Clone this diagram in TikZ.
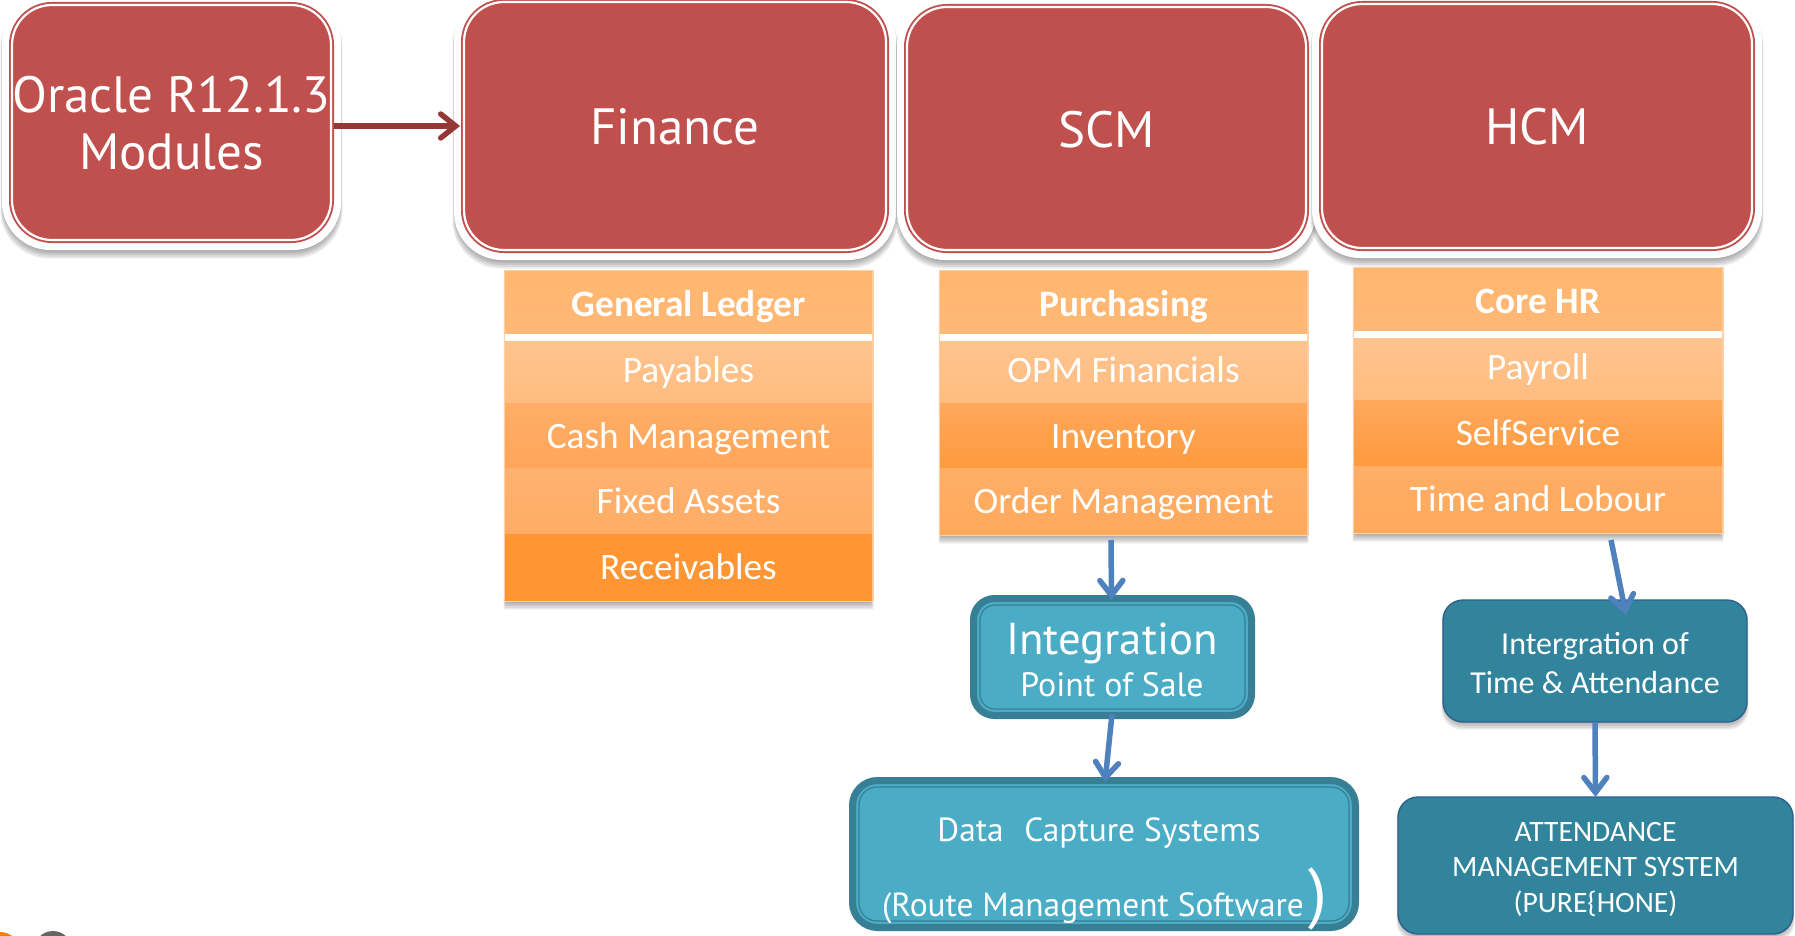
\documentclass[tikz,border=0pt]{standalone}
\usepackage{fontspec}
\setmainfont{Carlito}
\newfontfamily\hf{PT Sans}
\usetikzlibrary{arrows.meta,calc}
\definecolor{redfill}{HTML}{C0504D}
\definecolor{redarrow}{HTML}{953735}
\definecolor{bluearrow}{HTML}{4F81BD}
\definecolor{aqua}{HTML}{4BACC6}
\definecolor{aquadark}{HTML}{367F94}
\definecolor{teal}{HTML}{31849B}
\definecolor{tealline}{HTML}{2F5F8E}
\definecolor{rowedge}{HTML}{FFCFA6}
\definecolor{hdA}{HTML}{FFB670}\definecolor{hdB}{HTML}{FFB875}
\definecolor{payA}{HTML}{FFC48E}\definecolor{payB}{HTML}{FFBC80}
\definecolor{cashA}{HTML}{FFAD66}\definecolor{cashB}{HTML}{FFA65A}
\definecolor{fixA}{HTML}{FFB26F}\definecolor{fixB}{HTML}{FFAC66}
\definecolor{recA}{HTML}{FF9633}
\definecolor{invA}{HTML}{FFA85C}\definecolor{invB}{HTML}{FF9A3E}
\definecolor{ordA}{HTML}{FFAE66}\definecolor{ordB}{HTML}{FFA95C}
\tikzset{
  pict/.style={x=1pt,y=-1pt},
  boxbase/.style={inner sep=0pt,outer sep=0pt,align=center,text=white},
  redbox/.style={boxbase,fill=redfill,draw=redfill,line width=1.9pt,double=white,double distance=2.2pt},
  redlabel/.style={boxtext,font=\hf\fontsize{51}{57}\selectfont},
  aquabox/.style={boxbase,fill=aqua,draw=aquadark,line width=7pt},
  aquathin/.style={draw=aquadark,line width=1.2pt},
  tealbox/.style={boxbase,fill=teal,draw=tealline,line width=1.4pt},
  rowcell/.style={boxbase,text height=33.5pt,text depth=8pt,font=\fontsize{37.3}{40}\selectfont},
  payrow/.style={rowcell,text height=28.5pt},
  headcell/.style={rowcell,text height=37pt,font=\bfseries\fontsize{37.3}{40}\selectfont},
  mainarrow/.style={draw=redarrow,line width=5.4pt,-{Straight Barb[length=15pt,width=24pt,line cap=round,line width=5.4pt]}},
  bluearrowline/.style={draw=bluearrow,line width=5.5pt,-{Straight Barb[length=15pt,width=23pt,line cap=round,line width=5.5pt]}},
  boxtext/.style={inner sep=0pt,text=white,align=center},
}
% x1 y1 x2 y2 radius dy
\newcommand{\softshadow}[6]{%
  \foreach \s in {0,1,...,5}{%
    \fill[black,opacity=.075,rounded corners=#5pt]
      ({#1+2-\s*0.7},{#2+#6}) rectangle ({#3-2+\s*0.7},{#4+#6-4+\s*1.7});
  }%
}
% name x1 y1 x2 y2 text
\newcommand{\redmodule}[6]{%
  \softshadow{#2-8}{#3-8}{#4+8}{#5+8}{48}{4}
  \fill[white,rounded corners=48pt] ({#2-8},{#3-8}) rectangle ({#4+8},{#5+8});
  \node[redbox,rounded corners=40pt,minimum width={(#4-#2-4)*1pt},minimum height={(#5-#3-4)*1pt}]
    (#1) at ({(#2+#4)/2},{(#3+#5)/2}) {};
  \node[redlabel] (#1text) at ($(#1)+(0,1)$) {#6};
}
% name x1 y1 x2 y2 top bottom text style
\newcommand{\tablerow}[9][rowcell]{\tablerowi{#1}{#2}{#3}{#4}{#5}{#6}{#7}{#8}{#9}}
\newcommand{\tablerowi}[9]{%
  \node[#1,top color=#7,bottom color=#8,minimum width={(#5-#3)*1pt},minimum height={(#6-#4)*1pt}]
    (#2) at ({(#3+#5)/2},{(#4+#6)/2}) {#9};
}
% x1 y1 x2 y2
\newcommand{\tableback}[4]{%
  \softshadow{#1}{#2}{#3}{#4}{1}{5}
  \draw[rowedge,line width=3pt] (#1,#2) rectangle (#3,#4);
  \fill[white] (#1,{#2+60}) rectangle (#3,{#2+72});
}
\begin{document}
\begin{tikzpicture}[pict]
\useasboundingbox (0,0) rectangle (1795,936);
\clip (0,0) rectangle (1795,936);
\fill[white] (0,0) rectangle (1795,936);
% corner remnants
\fill[orange!95!red] (0,952) circle (20);
\fill[black!60] (53,950) circle (19);
% red modules
\redmodule{oracle}{10}{3}{333}{242}{Oracle R12.1.3\\Modules}
\redmodule{finance}{462}{0}{888}{252}{Finance}
\redmodule{scm}{905}{5}{1308}{252}{SCM}
\redmodule{hcm}{1320}{2}{1754}{250}{HCM}
\draw[mainarrow,shorten >=4pt] (oracle.east|-finance.west) ++(3,0) -- (finance.west);
% Finance table
\tableback{505}{271}{872}{600}
\tablerow[headcell]{gl}{505}{271}{872}{333}{hdA}{hdB}{General Ledger}
\tablerow[payrow]{pay}{505}{341}{872}{403}{payA}{payB}{Payables}
\tablerow{cash}{505}{403}{872}{468}{cashA}{cashB}{Cash Management}
\tablerow{fixed}{505}{468}{872}{534}{fixA}{fixB}{Fixed Assets}
\tablerow{recv}{505}{534}{872}{600}{recA}{recA}{Receivables}
% SCM table
\tableback{940}{271}{1307}{534}
\tablerow[headcell]{purch}{940}{271}{1307}{333}{hdA}{hdB}{Purchasing}
\tablerow[payrow]{opm}{940}{341}{1307}{403}{payA}{payB}{OPM Financials}
\tablerow{inv}{940}{403}{1307}{468}{invA}{invB}{Inventory}
\tablerow{ordm}{940}{468}{1307}{534}{ordA}{ordB}{Order Management}
% HCM table
\tableback{1354}{268}{1722}{532}
\tablerow[headcell]{core}{1354}{268}{1722}{330}{hdA}{hdB}{Core HR}
\tablerow[payrow]{payr}{1354}{338}{1722}{400}{payA}{payB}{Payroll}
\tablerow{self}{1354}{400}{1722}{466}{invA}{invB}{SelfService}
\tablerow{time}{1354}{466}{1722}{532}{ordA}{ordB}{Time and Lobour}
% Integration
\node[aquabox,rounded corners=21pt,minimum width=278pt,minimum height=117pt] (integ) at (1112.5,657) {};
\draw[aquathin,rounded corners=15pt] ($(integ.north west)+(6.5,6.5)$) rectangle ($(integ.south east)+(-6.5,-6.5)$);
\node[boxtext,font=\hf\fontsize{44.7}{46}\selectfont] (integt) at (1112,643.5) {Integration};
\node[boxtext,font=\hf\fontsize{33.8}{36}\selectfont] (post) at (1112,684.5) {Point of Sale};
% Data capture
\node[aquabox,rounded corners=25pt,minimum width=503pt,minimum height=147pt] (data) at (1104,854) {};
\draw[aquathin,rounded corners=18pt] ($(data.north west)+(6.5,6.5)$) rectangle ($(data.south east)+(-6.5,-6.5)$);
\node[boxtext,font=\hf\fontsize{33.4}{36}\selectfont] (datat) at (1099,833.5) {Data\hspace{.35em} Capture Systems};
\node[boxtext,font=\hf\fontsize{33.4}{36}\selectfont] (route) at (1093,908.5) {(Route Management Software};
\node[boxtext,font=\hf\fontsize{67}{70}\selectfont] (paren) at (1318,899) {)};
% right column
\softshadow{1443}{600}{1747}{722}{20}{3}
\node[tealbox,rounded corners=20pt,minimum width=304pt,minimum height=122pt] (timeatt) at (1595,661) {};
\node[boxtext,font=\fontsize{32}{39}\selectfont] (timeattt) at (1595,663) {Intergration of\\Time \& Attendance};
\softshadow{1398}{797}{1793}{934}{20}{3}
\node[tealbox,rounded corners=20pt,minimum width=395pt,minimum height=137pt] (ams) at (1595.5,865.5) {};
\node[boxtext,font=\fontsize{29.6}{35.5}\selectfont] (amst) at (1595.5,869) {ATTENDANCE\\MANAGEMENT SYSTEM\\(PURE\{HONE)};
% blue arrows
\coordinate (a1) at (1111,540);
\coordinate (a3) at (1611,540);
\draw[bluearrowline] (a1) -- ($(integ.north)+(-1,1.5)$);
\draw[bluearrowline] ($(integ.south)+(-0.5,-1.5)$) -- ($(data.north)+(1,1.5)$);
\draw[bluearrowline] (a3) -- ($(timeatt.north)+(31,15)$);
\draw[bluearrowline] (timeatt.south) -- (ams.north);
\end{tikzpicture}
\end{document}
